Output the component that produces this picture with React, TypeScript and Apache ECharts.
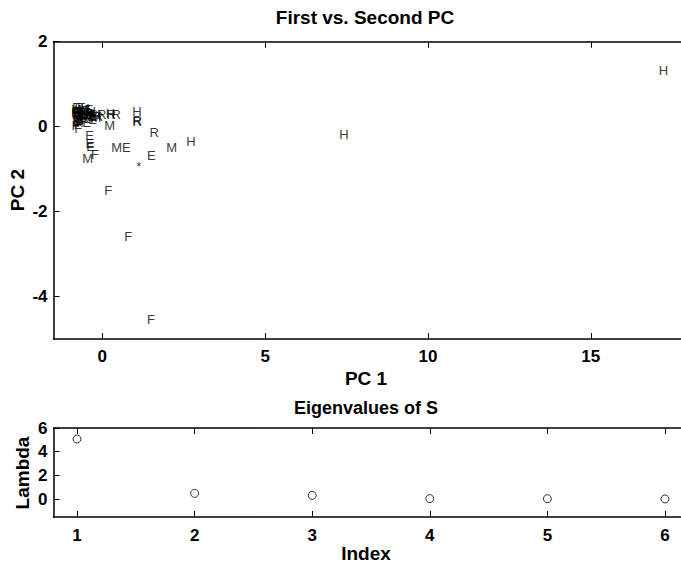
import React, { useEffect, useRef } from "react";
import * as echarts from "echarts";

// Scores on the first two principal components, with their class letters
const pcLabels = [
  "H", "H", "F", "F", "F", "H", "R", "R", "R", "M", "H", "E", "*", "M", "E",
  "M", "F", "E", "E", "E", "R", "H", "R", "M", "R",
  "H", "E", "R", "M", "E", "F", "F", "F", "H", "E", "R", "E", "M", "H", "R",
  "F", "E", "M", "H", "R", "E", "R", "M", "H", "R", "E", "F",
  "E", "H", "M", "R", "E", "F", "H", "M", "E", "R", "H", "E", "M", "F",
];
const pc1 = [
  17.1, 7.29, 1.39, 0.69, 0.07, 0.93, 0.93, 0.95, 1.46, 1.98, 2.59, 1.39, 1.06, 0.29, 0.62,
  -0.6, -0.33, -0.51, -0.5, -0.48, -0.15, 0.12, 0.3, 0.07, 0.14,
  -0.94, -0.92, -0.9, -0.93, -0.88, -0.91, -0.93, -0.86, -0.84, -0.8, -0.78, -0.82, -0.74, -0.7, -0.68,
  -0.72, -0.62, -0.58, -0.55, -0.5, -0.45, -0.4, -0.35, -0.3, -0.25, -0.6, -0.85,
  -0.95, -0.89, -0.86, -0.83, -0.76, -0.77, -0.66, -0.64, -0.53, -0.57, -0.47, -0.42, -0.89, -0.8,
];
const pc2 = [
  1.32, -0.2, -4.55, -2.6, -1.52, 0.35, 0.11, 0.13, -0.15, -0.5, -0.36, -0.69, -0.95, -0.51, -0.51,
  -0.76, -0.66, -0.22, -0.4, -0.48, 0.27, 0.3, 0.27, 0.02, 0.28,
  0.4, 0.45, 0.35, 0.28, 0.22, 0.12, 0.02, 0.05, 0.42, 0.33, 0.25, 0.15, 0.4, 0.3, 0.2,
  0.1, 0.36, 0.26, 0.18, 0.3, 0.22, 0.28, 0.2, 0.26, 0.22, 0.08, -0.05,
  0.33, 0.3, 0.38, 0.2, 0.45, 0.18, 0.42, 0.24, 0.4, 0.33, 0.35, 0.15, 0.08, 0.08,
];

// Eigenvalues of S
const eigIndex = [1, 2, 3, 4, 5, 6];
const eigValues = [5.07, 0.49, 0.32, 0.05, 0.04, 0.02];

// Tick values
const pcXTicks = [0, 5, 10, 15];
const pcYTicks = [-4, -2, 0, 2];
const eigXTicks = [1, 2, 3, 4, 5, 6];
const eigYTicks = [0, 2, 4, 6];

const FONT = '"Liberation Sans", Arial, Helvetica, sans-serif';
const BOLD = (size: number) => `bold ${size}px ${FONT}`;

const lineStyle = { color: "#000", width: 1.5 };

function xAx(grid: number, min: number, max: number, ticks: number[], pos: "top" | "bottom", margin: number) {
  return {
    type: "value",
    gridIndex: grid,
    min,
    max,
    position: pos,
    axisLine: { show: true, onZero: false, lineStyle },
    axisTick: { show: true, inside: true, length: 6, customValues: ticks, lineStyle: { color: "#000", width: 1 } },
    axisLabel: {
      show: pos === "bottom",
      customValues: ticks,
      color: "#000",
      fontSize: 17,
      fontWeight: "bold",
      fontFamily: FONT,
      margin,
    },
    splitLine: { show: false },
  };
}

function yAx(grid: number, min: number, max: number, ticks: number[]) {
  return {
    type: "value",
    gridIndex: grid,
    min,
    max,
    position: "left",
    axisLine: { show: true, onZero: false, lineStyle },
    axisTick: { show: true, inside: true, length: 6, customValues: ticks, lineStyle: { color: "#000", width: 1 } },
    axisLabel: {
      customValues: ticks,
      color: "#000",
      fontSize: 17,
      fontWeight: "bold",
      fontFamily: FONT,
      margin: 6,
    },
    splitLine: { show: false },
  };
}

function txt(text: string, x: number, y: number, size: number, rotate = false) {
  return {
    type: "text",
    x,
    y,
    rotation: rotate ? Math.PI / 2 : 0,
    style: {
      text,
      x: 0,
      y: 0,
      textAlign: "center",
      textVerticalAlign: "middle",
      font: BOLD(size),
      fill: "#000",
    },
    silent: true,
  };
}

export default function App() {
  const ref = useRef<HTMLDivElement>(null);

  useEffect(() => {
    if (!ref.current) return;
    const chart = echarts.init(ref.current, undefined, { renderer: "svg" });
    const pcData = pc1.map((x, i) => [x, pc2[i], pcLabels[i]]);
    const eigData = eigIndex.map((x, i) => [x, eigValues[i]]);
    chart.setOption({
      animation: false,
      backgroundColor: "#fff",
      grid: [
        { left: 53.5, top: 41.7, width: 635, height: 297.3 },
        { left: 53.5, top: 428, width: 635, height: 89 },
      ],
      xAxis: [
        xAx(0, -1.5, 18, pcXTicks, "bottom", 9),
        xAx(0, -1.5, 18, pcXTicks, "top", 9),
        xAx(1, 0.8, 6.2, eigXTicks, "bottom", 10),
        xAx(1, 0.8, 6.2, eigXTicks, "top", 10),
      ],
      yAxis: [yAx(0, -5, 2, pcYTicks), yAx(1, -1.5, 6, eigYTicks)],
      series: [
        {
          type: "scatter",
          xAxisIndex: 0,
          yAxisIndex: 0,
          data: pcData,
          symbol: "circle",
          symbolSize: 1,
          itemStyle: { color: "rgba(0,0,0,0)" },
          clip: false,
          silent: true,
          label: {
            show: true,
            position: [0, 0],
            align: "left",
            verticalAlign: "middle",
            formatter: (p: any) => p.value[2],
            color: "#000",
            fontSize: 13,
            fontFamily: FONT,
          },
        },
        {
          type: "scatter",
          xAxisIndex: 2,
          yAxisIndex: 1,
          data: eigData,
          symbol: "circle",
          symbolSize: 8,
          itemStyle: { color: "rgba(0,0,0,0)", borderColor: "#000", borderWidth: 1 },
          silent: true,
        },
      ],
      graphic: [
        txt("First vs. Second PC", 365, 17, 19),
        txt("PC 2", 17, 190, 19, true),
        txt("PC 1", 366, 378, 19),
        txt("Eigenvalues of S", 366, 408, 18),
        txt("Lambda", 22, 473, 19, true),
        txt("Index", 366, 553, 19),
      ],
    });
    return () => chart.dispose();
  }, []);

  return (
    <div
      style={{
        position: "fixed",
        left: 0,
        top: 0,
        width: 681,
        height: 563,
        overflow: "hidden",
        background: "#fff",
      }}
    >
      <div ref={ref} style={{ width: 700, height: 563 }} />
    </div>
  );
}
